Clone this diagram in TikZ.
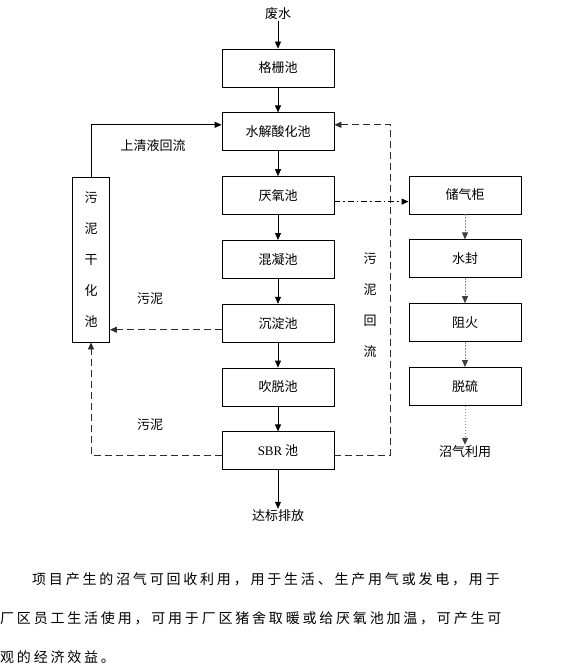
\documentclass[tikz,border=0pt]{standalone}
\usepackage{fontspec}
\setmainfont{Liberation Serif}
\newfontfamily\cjk{Noto Sans CJK SC}
\newfontfamily\latin{Liberation Serif}
\newfontfamily\cjkpara[LetterSpace=20]{Noto Sans CJK SC}
\usetikzlibrary{positioning, arrows.meta}
\definecolor{lineGrey}{RGB}{45,45,45}
\definecolor{dotGrey}{RGB}{150,150,150}

\begin{document}
\begin{tikzpicture}[x=1pt, y=1pt,
		pool/.style={shape=rectangle, draw=black, line width=0.8pt, minimum width=112pt, minimum height=38pt, inner sep=0pt, font=\cjk\fontsize{13}{15}\selectfont},
		tag/.style={inner sep=1pt, font=\cjk\fontsize{13}{15}\selectfont},
		flow/.style={line width=0.8pt, -{Triangle[length=7pt, width=6pt]}},
		sludge/.style={flow, lineGrey, dash pattern=on 7pt off 4pt},
		gasflow/.style={line width=0.8pt, dotGrey, dash pattern=on 1.5pt off 1.5pt, -{Triangle[length=7pt, width=6pt, color=black!75]}},
		para/.style={anchor=west, inner sep=0pt, font=\cjkpara\fontsize{14}{16}\selectfont}]
		
		\useasboundingbox (0,0) rectangle (572,-669);
		
		% Main line
		\node[tag] (waste) at (278,-14) {废水};
		\node[pool] (grid) at (278,-68) {格栅池};
		\node[pool, below=25pt of grid] (hydro) {水解酸化池};
		\node[pool, below=25pt of hydro] (anaer) {厌氧池};
		\node[pool, below=25pt of anaer] (coag) {混凝池};
		\node[pool, below=25pt of coag] (settle) {沉淀池};
		\node[pool, below=25pt of settle] (strip) {吹脱池};
		\node[pool, below=25pt of strip] (sbr) {{\latin SBR} 池};
		\node[tag] (outlet) at (278,-516) {达标排放};
		\draw[flow] (waste) -- (grid);
		\draw[flow] (grid) -- (hydro);
		\draw[flow] (hydro) -- (anaer);
		\draw[flow] (anaer) -- (coag);
		\draw[flow] (coag) -- (settle);
		\draw[flow] (settle) -- (strip);
		\draw[flow] (strip) -- (sbr);
		\draw[flow] (sbr) -- (outlet);
		
		% Sludge drying
		\node[shape=rectangle, draw=black, line width=0.8pt, minimum width=37pt, minimum height=165pt, align=center, font=\cjk\fontsize{13}{31}\selectfont] (dry) at (91,-259.5) {污\\泥\\干\\化\\池};
		\draw[flow] (dry.north) |- ([yshift=7pt]hydro.west);
		\node[tag] (clear) at (153,-146) {上清液回流};
		\draw[sludge] ([yshift=-6.5pt]settle.west) -- ([yshift=-6.5pt]settle.west -| dry.east);
		\node[tag] (mud1) at (150,-299) {污泥};
		\draw[sludge] ([yshift=-5pt]sbr.west) -| (dry.south);
		\node[tag] (mud2) at (150,-425) {污泥};
		\coordinate (ret) at (390,0);
		\draw[sludge] ([yshift=-5pt]sbr.east) -- ([yshift=-5pt]sbr.east -| ret) |- ([yshift=7pt]hydro.east);
		\node[tag, align=center, font=\cjk\fontsize{13}{31}\selectfont] (back) at (370,-305) {污\\泥\\回\\流};
		
		% Biogas
		\node[pool] (tank) at (465,-195) {储气柜};
		\node[pool, below=25pt of tank] (seal) {水封};
		\node[pool, below=25pt of seal] (fire) {阻火};
		\node[pool, below=25pt of fire] (desulf) {脱硫};
		\node[tag] (use) at (465,-452) {沼气利用};
		\draw[flow, dash pattern=on 6pt off 3pt on 1.5pt off 3pt] ([yshift=-6pt]anaer.east) -- ([yshift=-6pt]anaer.east -| tank.west);
		\draw[gasflow] (tank) -- (seal);
		\draw[gasflow] (seal) -- (fire);
		\draw[gasflow] (fire) -- (desulf);
		\draw[gasflow] (desulf) -- (use);
		
		% Text
		\node[para] (line1) at (32,-579) {项目产生的沼气可回收利用，用于生活、生产用气或发电，用于};
		\node[para] (line2) at (0,-618) {厂区员工生活使用，可用于厂区猪舍取暖或给厌氧池加温，可产生可};
		\node[para] (line3) at (0,-657) {观的经济效益。};
	\end{tikzpicture}
\end{document}
